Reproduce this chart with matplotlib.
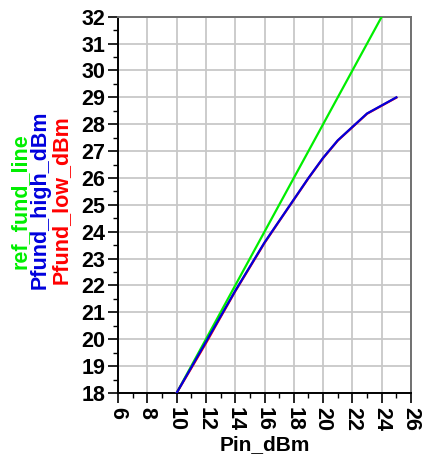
import matplotlib
matplotlib.use("Agg")
import matplotlib.pyplot as plt
from matplotlib.ticker import MultipleLocator

# Swept input power (dBm)
pin_ref = [10, 11, 12, 13, 14, 15, 16, 17, 18, 19, 20, 21, 22, 23, 24]
ref_fund_line = [18, 19, 20, 21, 22, 23, 24, 25, 26, 27, 28, 29, 30, 31, 32]

pin_sweep = [10, 11, 12, 13, 14, 15, 16, 17, 18, 19, 20, 21, 22, 23, 24, 25]
pfund_high_dbm = [18.0, 18.95, 19.9, 20.85, 21.8, 22.7, 23.6, 24.4, 25.2,
                  26.0, 26.75, 27.4, 27.9, 28.4, 28.7, 29.0]
pfund_low_dbm = [18.0, 18.92, 19.85, 20.82, 21.78, 22.68, 23.58, 24.39, 25.19,
                 25.99, 26.74, 27.39, 27.89, 28.39, 28.69, 28.99]

x_ticks = [6, 8, 10, 12, 14, 16, 18, 20, 22, 24, 26]
y_ticks = list(range(18, 33))

plt.rcParams['font.family'] = ['Liberation Sans', 'DejaVu Sans']
plt.rcParams['font.weight'] = 'bold'

fig = plt.figure(figsize=(4.22, 4.59), dpi=100)
ax = fig.add_axes([0.2796, 0.1438, 0.6944, 0.8198])

ax.plot(pin_ref, ref_fund_line, color='#00ee00', lw=1.6, zorder=3)
ax.plot(pin_sweep, pfund_low_dbm, color='#ff0000', lw=1.6, zorder=4)
ax.plot(pin_sweep, pfund_high_dbm, color='#0000dd', lw=1.6, zorder=5)

ax.set_xlim(6, 26)
ax.set_ylim(18, 32)
ax.set_xticks(x_ticks)
ax.set_yticks(y_ticks)
ax.xaxis.set_minor_locator(MultipleLocator(1))
ax.yaxis.set_minor_locator(MultipleLocator(0.5))

ax.grid(True, which='major', color='#c8c8c8', lw=1.3, zorder=0)
ax.set_axisbelow(True)

ax.tick_params(axis='both', which='major', direction='out', length=7, width=1.2,
               labelsize=15.5, color='black')
ax.tick_params(axis='both', which='minor', direction='out', length=3.5, width=1.0,
               color='black')
ax.tick_params(axis='x', which='major', pad=3)
ax.tick_params(axis='y', which='major', pad=2)
for lbl in ax.get_xticklabels():
    lbl.set_rotation(270)
    lbl.set_fontweight('bold')
for lbl in ax.get_yticklabels():
    lbl.set_fontweight('bold')

for side in ('left', 'bottom'):
    ax.spines[side].set_color('black')
    ax.spines[side].set_linewidth(1.4)
for side in ('top', 'right'):
    ax.spines[side].set_color('#707070')
    ax.spines[side].set_linewidth(1.4)

ax.set_xlabel('Pin_dBm', fontsize=15, fontweight='bold', labelpad=3)

# Stacked y-axis legend labels, one per trace colour
fig.text(20 / 422, 1 - 201 / 459, 'ref_fund_line', rotation=90, color='#00ee00',
         fontsize=15.5, fontweight='bold', ha='center', va='center')
fig.text(40 / 422, 1 - 200 / 459, 'Pfund_high_dBm', rotation=90, color='#0000dd',
         fontsize=15.5, fontweight='bold', ha='center', va='center')
fig.text(61 / 422, 1 - 200 / 459, 'Pfund_low_dBm', rotation=90, color='#ff0000',
         fontsize=15.5, fontweight='bold', ha='center', va='center')

fig.savefig('out.png', dpi=100)
